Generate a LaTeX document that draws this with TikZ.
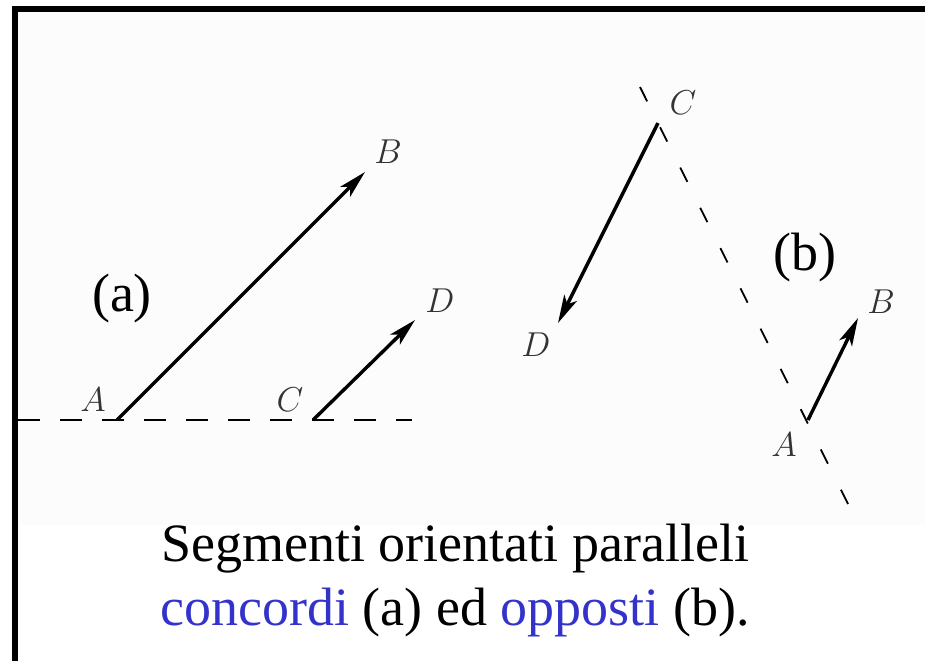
\documentclass[tikz,border=0pt]{standalone}
\usepackage{fontspec}
\setmainfont{Liberation Serif}
\usepackage{xcolor}
\definecolor{capblue}{RGB}{51,51,204}
\definecolor{figbg}{RGB}{252,252,252}
\usetikzlibrary{arrows.meta}

\begin{document}
\begin{tikzpicture}[x=0.5pt,y=-0.5pt,
  lbl/.style={font=\fontsize{18}{20}\selectfont,text=black!80,inner sep=0pt},
  tag/.style={font=\fontsize{27}{30}\selectfont,inner sep=0pt},
  capt/.style={font=\fontsize{27}{32}\selectfont,align=center,inner sep=0pt},
  arr/.style={-{Stealth[length=14pt,width=7pt,inset=3.5pt]},line width=1.7pt},
  base/.style={dash pattern=on 11pt off 10pt,line width=1pt},
  slant/.style={dash pattern=on 8pt off 14.5pt,line width=0.9pt}]
  \useasboundingbox (0,0) rectangle (925,661);
  \fill[figbg] (17,12) rectangle (925,525);
  \draw[line width=3pt,miter limit=10] (15,661) -- (15,9) -- (925,9);
  % (a) concordi
  \coordinate (aA) at (117,420); \coordinate (aB) at (365,172);
  \coordinate (aC) at (313,420); \coordinate (aD) at (415,320);
  \coordinate (aL) at (18,420);  \coordinate (aR) at (412,420);
  \draw[base] (aL) -- (aR);
  \draw[arr] (aA) -- (aB); \draw[arr] (aC) -- (aD);
  \node[lbl] (laA) at (93,400) {$A$};
  \node[lbl] (laB) at (388,152) {$B$};
  \node[lbl] (laC) at (290,400) {$C$};
  \node[lbl] (laD) at (440,301) {$D$};
  \node[tag] (ta) at (122,298) {(a)};
  % (b) opposti
  \coordinate (bC) at (658,123); \coordinate (bD) at (558,323);
  \coordinate (bA) at (808,420); \coordinate (bB) at (858,318);
  \coordinate (bT) at (640,87);  \coordinate (bE) at (855,518);
  \draw[slant] (bT) -- (bE);
  \draw[arr] (bC) -- (bD); \draw[arr] (bA) -- (bB);
  \node[lbl] (lbC) at (683,103) {$C$};
  \node[lbl] (lbD) at (536,345) {$D$};
  \node[lbl] (lbA) at (784,445) {$A$};
  \node[lbl] (lbB) at (881,302) {$B$};
  \node[tag] (tb) at (805,258) {(b)};
  % didascalia
  \node[capt] (cpt) at (455,580) {Segmenti orientati paralleli\\
    \textcolor{capblue}{concordi} (a) ed \textcolor{capblue}{opposti} (b).};
\end{tikzpicture}
\end{document}
